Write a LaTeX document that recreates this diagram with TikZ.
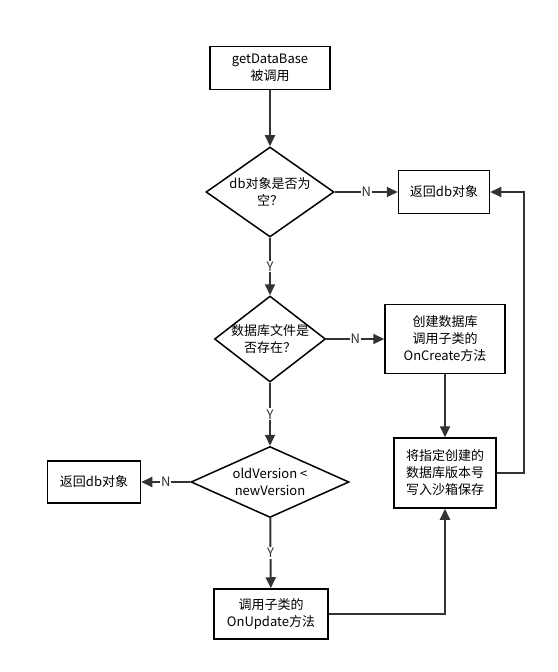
\documentclass[tikz,border=0pt]{standalone}
\usepackage{fontspec}
\setmainfont{Noto Sans CJK SC}
\usetikzlibrary{shapes.geometric,arrows.meta}
\definecolor{linegray}{HTML}{333333}
\tikzset{
  box/.style={draw=black,line width=1.5pt,fill=white,align=center,inner sep=0pt},
  decision/.style={diamond,draw=black,line width=1.5pt,fill=white,align=center,inner sep=-1pt},
  flow/.style={draw=linegray,line width=2pt,-{Triangle[length=11pt,width=10pt]}},
  yn/.style={fill=white,inner sep=1pt,text=linegray}
}
\begin{document}
\begin{tikzpicture}[x=1pt,y=-1pt,font=\fontsize{13}{17}\selectfont]
\useasboundingbox (0,0) rectangle (557,672);

\node[box,minimum width=120pt,minimum height=43pt] (start) at (270,68) {getDataBase\\被调用};
\node[decision,minimum width=128pt,minimum height=90pt,aspect=1.42] (dbnull) at (270,192) {db对象是否为\\空？};
\node[box,minimum width=91pt,minimum height=43pt] (retA) at (444,192) {返回db对象};

\node[decision,minimum width=111pt,minimum height=86pt,aspect=1.29] (fileok) at (270,339) {数据库文件是\\否存在？};
\node[box,minimum width=120pt,minimum height=69pt] (create) at (445,339) {创建数据库\\调用子类的\\OnCreate方法};

\node[decision,minimum width=158pt,minimum height=71pt,aspect=2.2] (vercmp) at (270,482) {oldVersion <\\newVersion};
\node[box,minimum width=93pt,minimum height=42pt] (retB) at (94,482) {返回db对象};
\node[box,minimum width=102pt,minimum height=70pt] (save) at (445,473) {将指定创建的\\数据库版本号\\写入沙箱保存};

\node[box,minimum width=114pt,minimum height=50pt] (update) at (271,614) {调用子类的\\OnUpdate方法};

\coordinate (loop) at (524,0);

\draw[flow] (start) -- (dbnull);
\draw[flow] (dbnull) -- node[yn]{N} (retA);
\draw[flow] (dbnull) -- node[yn]{Y} (fileok);
\draw[flow] (fileok) -- node[yn]{N} (create);
\draw[flow] (fileok) -- node[yn]{Y} (vercmp);
\draw[flow] (vercmp) -- node[yn]{N} (retB);
\draw[flow] (vercmp) -- node[yn]{Y} (update);
\draw[flow] (create) -- (save);
\draw[flow] (update) -| (save);
\draw[flow] (save.east) -- (save.east -| loop) |- (retA.east);
\end{tikzpicture}
\end{document}
